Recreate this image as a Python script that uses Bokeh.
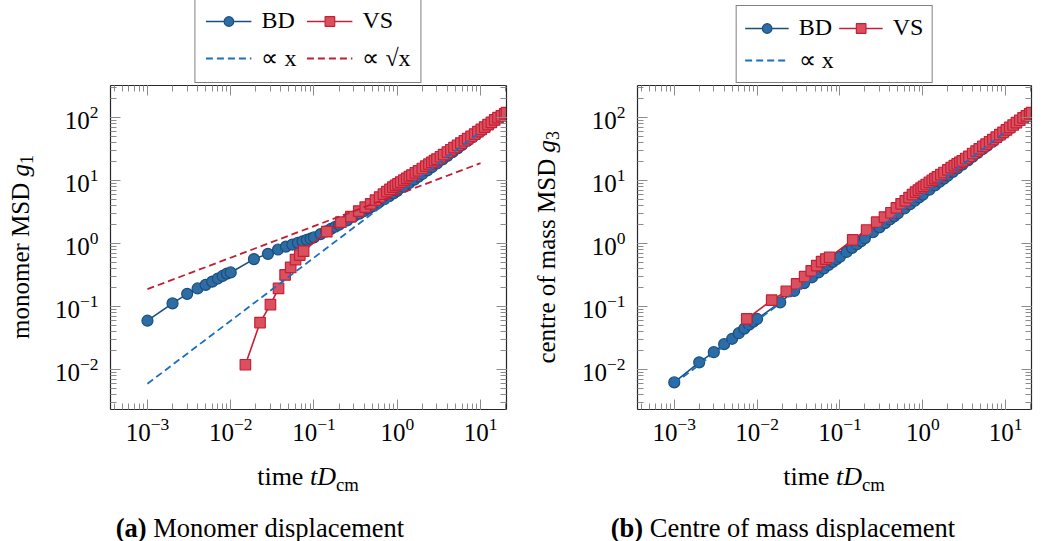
from bokeh.plotting import figure
from bokeh.models import (LogAxis, LogTicker, Legend, LegendItem, Div, Spacer,
                          CustomJSTickFormatter, Range1d)
from bokeh.layouts import row, column
from bokeh.embed import file_html
from bokeh.resources import INLINE

FONT = "Liberation Serif"

# ---------------- data ----------------
bd_time = [0.001, 0.002, 0.003, 0.004, 0.005, 0.006, 0.007, 0.008, 0.009, 0.010,
           0.019, 0.028, 0.037, 0.046, 0.055, 0.064, 0.073, 0.082, 0.091, 0.1,
           0.12, 0.14, 0.16, 0.18, 0.2, 0.25, 0.3, 0.35, 0.4, 0.45, 0.5,
           0.6, 0.7, 0.8, 0.9, 1.0, 1.2, 1.4, 1.6, 1.8, 2.0, 2.3, 2.6, 3.0, 3.5, 4.0,
           4.6, 5.3, 6.0, 7.0, 8.0, 9.0, 10, 11.5, 13, 15, 17, 19, 20.5]
bd_g1 = [0.060, 0.113, 0.160, 0.195, 0.222, 0.250, 0.280, 0.308, 0.335, 0.350,
         0.57, 0.69, 0.81, 0.90, 0.97, 1.03, 1.09, 1.15, 1.20, 1.26,
         1.42, 1.57, 1.72, 1.86, 2.0, 2.35, 2.7, 3.0, 3.3, 3.6, 3.9,
         4.5, 5.1, 5.7, 6.3, 6.9, 8.0, 9.2, 10.4, 11.6, 12.8, 14.6, 16.4, 18.8, 21.8, 24.8,
         28.4, 32.6, 36.8, 43, 49, 55, 61, 70, 79, 91, 103, 113, 118]
bd_g3 = [0.0063, 0.0131, 0.019, 0.0255, 0.031, 0.038, 0.045, 0.052, 0.058, 0.064,
         0.117, 0.178, 0.237, 0.293, 0.35, 0.405, 0.46, 0.515, 0.57, 0.62,
         0.74, 0.86, 0.98, 1.1, 1.22, 1.52, 1.82, 2.12, 2.42, 2.72, 3.02,
         3.62, 4.22, 4.82, 5.42, 6.0, 7.2, 8.4, 9.6, 10.8, 12.0, 13.8, 15.6, 18.0, 21, 24,
         27.6, 31.8, 36, 42, 48, 54, 60, 69, 78, 90, 102, 113, 118]

vs_time_g1 = [0.015, 0.0225, 0.03, 0.0375, 0.045, 0.0525, 0.06, 0.0675, 0.075,
              0.1425, 0.21, 0.2775, 0.345, 0.4125, 0.48, 0.5475, 0.615, 0.6825, 0.75,
              0.8175, 0.885, 0.9525, 1.02, 1.1, 1.2, 1.3, 1.4, 1.5, 1.65, 1.8,
              2.0, 2.2, 2.4, 2.6, 2.8, 3.0, 3.3, 3.6, 4.0, 4.4, 4.8, 5.3, 5.8, 6.4, 7.0,
              7.7, 8.5, 9.3, 10.2, 11.2, 12.3, 13.5, 14.8, 16.2, 17.8, 19.5, 20.5]
vs_g1 = [0.012, 0.056, 0.108, 0.195, 0.32, 0.42, 0.56, 0.66, 0.76,
         1.55, 2.2, 2.7, 3.3, 3.8, 4.3, 4.9, 5.5, 6.1, 6.7,
         7.3, 7.9, 8.4, 8.9, 9.5, 10.2, 10.9, 11.6, 12.3, 13.3, 14.3,
         15.6, 17.0, 18.3, 19.6, 20.8, 22.0, 24.0, 26.0, 28.5, 31.0, 33.5, 36.5, 39.5, 43, 46.5,
         50.5, 55, 60, 65, 71, 77.5, 84.5, 92, 100, 107, 115, 120]

vs_time_g3 = [0.0075, 0.015, 0.0225, 0.03, 0.0375, 0.045, 0.0525, 0.06, 0.0675, 0.075,
              0.1425, 0.21, 0.2775, 0.345, 0.4125, 0.48, 0.5475, 0.615, 0.6825, 0.75,
              0.8175, 0.885, 0.9525, 1.02, 1.1, 1.2, 1.3, 1.4, 1.5, 1.65, 1.8,
              2.0, 2.2, 2.4, 2.6, 2.8, 3.0, 3.3, 3.6, 4.0, 4.4, 4.8, 5.3, 5.8, 6.4, 7.0,
              7.7, 8.5, 9.3, 10.2, 11.2, 12.3, 13.5, 14.8, 16.2, 17.8, 19.5, 20.5]
vs_g3 = [0.064, 0.127, 0.175, 0.23, 0.30, 0.37, 0.45, 0.52, 0.57, 0.61,
         1.15, 1.65, 2.2, 2.65, 3.1, 3.7, 4.3, 4.8, 5.4, 6.0,
         6.6, 7.1, 7.6, 8.1, 8.7, 9.4, 10.1, 10.8, 11.5, 12.5, 13.5,
         14.8, 16.1, 17.3, 18.5, 19.6, 20.7, 22.5, 24.4, 27, 29.5, 32, 35, 38, 41.5, 45,
         49, 54, 58.5, 64, 70, 76.5, 83.5, 91, 99, 107, 115, 120]

ref_time = [0.001, 10]
ref_prop_x = [0.006, 60]
ref_prop_sqrt_x = [0.19, 19]

x_limits = (3.6e-4, 20.5)
y_limits = (2.34e-3, 324)

# ---------------- styles ----------------
BD_LINE = "#17507f"
BD_FILL = "#2e6ca3"
VS_LINE = "#c81e36"
VS_FILL = "#d9515f"
DASH_BLUE = "#1a6fc2"
DASH_RED = "#c41c36"
TICK_COL = "#8c8c8c"

BD_LINE_KW = dict(line_color=BD_LINE, line_width=1.6)
BD_MARK_KW = dict(marker="circle", size=11, fill_color=BD_FILL, line_color=BD_LINE, line_width=1.2)
VS_LINE_KW = dict(line_color=VS_LINE, line_width=1.6)
VS_MARK_KW = dict(marker="square", size=10.5, fill_color=VS_FILL, line_color=VS_LINE, line_width=1.2)
LIN_KW = dict(line_color=DASH_BLUE, line_width=1.8, line_dash="7 4")
SQRT_KW = dict(line_color=DASH_RED, line_width=1.8, line_dash="7 4")


def style_axis(ax, show_labels=True):
    ax.ticker = LogTicker(num_minor_ticks=10)
    ax.axis_line_color = "#262626"
    ax.axis_line_width = 1.2
    ax.major_tick_in = 10
    ax.major_tick_out = 0
    ax.minor_tick_in = 6
    ax.minor_tick_out = 0
    ax.major_tick_line_color = TICK_COL
    ax.minor_tick_line_color = TICK_COL
    ax.major_label_text_font = FONT
    ax.major_label_text_font_size = "25px"
    ax.major_label_text_color = "black"
    if not show_labels:
        ax.formatter = CustomJSTickFormatter(code="return ''")
        ax.major_label_standoff = 0
        ax.axis_label_standoff = 0


def make_fig(width, bl, br, vs_t, vs_y, bd_y, with_sqrt):
    p = figure(width=width, height=374, x_axis_type="log", y_axis_type="log",
               x_range=Range1d(*x_limits), y_range=Range1d(*y_limits),
               output_backend="svg", toolbar_location=None,
               min_border_left=bl, min_border_right=br,
               min_border_top=1, min_border_bottom=49)
    p.grid.visible = False
    p.outline_line_color = None
    p.background_fill_color = "white"
    p.border_fill_color = "white"

    for ax in p.xaxis:
        style_axis(ax)
        ax.major_label_standoff = 8
    for ax in p.yaxis:
        style_axis(ax)
        ax.major_label_standoff = 12

    top = LogAxis()
    style_axis(top, show_labels=False)
    right = LogAxis()
    style_axis(right, show_labels=False)
    p.add_layout(top, "above")
    p.add_layout(right, "right")

    p.line(bd_time, bd_y, **BD_LINE_KW)
    p.scatter(bd_time, bd_y, **BD_MARK_KW)
    p.line(vs_t, vs_y, **VS_LINE_KW)
    p.scatter(vs_t, vs_y, **VS_MARK_KW)
    p.line(ref_time, ref_prop_x, **LIN_KW)
    if with_sqrt:
        p.line(ref_time, ref_prop_sqrt_x, **SQRT_KW)
    return p


# legend-only panel: the swatch renderers sit outside its visible range
swatch_x = [5, 6]
swatch_y = [5, 6]


def make_legend_fig(width, height, with_sqrt, pad, sp, lh, gw):
    q = figure(width=width, height=height, x_range=Range1d(0, 1), y_range=Range1d(0, 1),
               output_backend="svg", toolbar_location=None,
               x_axis_location=None, y_axis_location=None,
               min_border=0, min_border_left=0, min_border_right=0,
               min_border_top=0, min_border_bottom=0)
    q.grid.visible = False
    q.outline_line_color = None
    q.border_fill_color = "white"
    bd_l = q.line(swatch_x, swatch_y, **BD_LINE_KW)
    bd_m = q.scatter(swatch_x, swatch_y, **BD_MARK_KW)
    vs_l = q.line(swatch_x, swatch_y, **VS_LINE_KW)
    vs_m = q.scatter(swatch_x, swatch_y, **VS_MARK_KW)
    lin = q.line(swatch_x, swatch_y, **LIN_KW)
    items = [LegendItem(label="BD", renderers=[bd_l, bd_m]),
             LegendItem(label="VS", renderers=[vs_l, vs_m]),
             LegendItem(label="∝ x", renderers=[lin])]
    if with_sqrt:
        sq = q.line(swatch_x, swatch_y, **SQRT_KW)
        items.append(LegendItem(label="∝ √x", renderers=[sq]))
    leg = Legend(items=items, orientation="horizontal", ncols=2,
                 location="bottom_center",
                 border_line_color="black", border_line_width=1.2,
                 background_fill_color="white", background_fill_alpha=1.0,
                 label_text_font=FONT, label_text_font_size="24px",
                 label_text_color="black",
                 glyph_width=gw, glyph_height=lh, label_height=lh,
                 label_standoff=10, spacing=sp, padding=pad, margin=1)
    q.add_layout(leg, "center")
    return q


def ylabel_div(html, width, height):
    return Div(text=(
        f'<div style="width:{width}px;height:324px;margin-top:1px;display:flex;'
        'align-items:center;justify-content:center;">'
        '<span style="writing-mode:vertical-rl;transform:rotate(180deg);'
        f'font-family:\'{FONT}\';font-size:25px;color:#000;white-space:nowrap;">'
        f'{html}</span></div>'), width=width, height=height, margin=0)


def text_div(html, width, height, size, pad_top=0):
    return Div(text=(
        f'<div style="width:{width}px;text-align:center;font-family:\'{FONT}\';'
        f'font-size:{size}px;color:#000;white-space:nowrap;padding-top:{pad_top}px;">'
        f'{html}</div>'), width=width, height=height, margin=0)


fig_a = make_fig(476, 66, 14, vs_time_g1, vs_g1, bd_g1, True)
fig_b = make_fig(470, 61, 15, vs_time_g3, vs_g3, bd_g3, False)
leg_a = make_legend_fig(396, 84, True, 10, 10, 24, 46)
leg_b = make_legend_fig(394, 84, False, 8, 5, 24, 44)

xlab_html = 'time <i>tD</i><sub style="font-size:72%;">cm</sub>'

left = column(
    row(Spacer(width=110, height=84), leg_a, Spacer(width=14, height=84)),
    row(ylabel_div('monomer MSD <i>g</i><sub style="font-size:72%;">1</sub>', 44, 374), fig_a),
    row(Spacer(width=110, height=52), text_div(xlab_html, 396, 52, 26, 0)),
    text_div('<b>(a)</b> Monomer displacement', 520, 31, 26.5),
)
right = column(
    row(Spacer(width=117, height=84), leg_b, Spacer(width=15, height=84)),
    row(ylabel_div('centre of mass MSD <i>g</i><sub style="font-size:72%;">3</sub>', 56, 374), fig_b),
    row(Spacer(width=117, height=52), text_div(xlab_html, 394, 52, 26, 0)),
    text_div('<b>(b)</b> Centre of mass displacement', 526, 31, 26.5),
)
layout = row(left, right)

open("out.html", "w").write(file_html(layout, INLINE))
